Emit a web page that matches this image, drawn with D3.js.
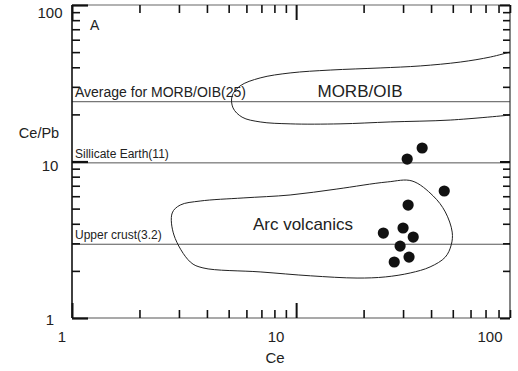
<!DOCTYPE html>
<html><head><meta charset="utf-8">
<script src="https://cdn.jsdelivr.net/npm/d3@7"></script>
<style>
html,body{margin:0;padding:0;background:#fff;}
text{font-family:"Liberation Sans",Arial,sans-serif;fill:#222;}
</style></head>
<body>
<svg id="chart" width="518" height="371"></svg>
<script>
// ---- data ----
const ceValues   = [31.3, 36.5, 45.8, 31.6, 24.5, 30.0, 33.3, 29.1, 31.9, 27.4];
const cePbValues = [10.37, 12.2, 6.48, 5.27, 3.49, 3.76, 3.29, 2.88, 2.45, 2.28];

const refNames  = ["Average for MORB/OIB(25)", "Sillicate Earth(11)", "Upper crust(3.2)"];
const refValues = [24.1, 9.8, 2.96];

const morbCe   = [90.2, 73.5, 54.0, 35.8, 23.7, 14.2, 9.40, 6.91, 5.62, 5.18, 5.23, 5.74, 6.91, 9.40, 15.7, 26.3, 48.7, 90.2];
const morbCePb = [50.1, 46.5, 43.2, 40.8, 39.6, 38.4, 36.8, 34.2, 30.4, 26.2, 22.0, 19.2, 17.9, 17.4, 17.4, 17.9, 18.4, 19.8];

const arcCe   = [2.80, 3.04, 3.73, 5.80, 9.40, 15.2, 25.5, 32.9, 40.9, 46.3, 49.7, 49.2, 46.3, 39.6, 32.3, 25.0, 18.7, 11.6, 6.91, 3.84, 3.37, 2.85];
const arcCePb = [4.69, 5.27, 5.59, 5.85, 6.11, 6.67, 7.40, 7.51, 6.02, 4.76, 3.54, 2.93, 2.45, 2.12, 1.94, 1.83, 1.80, 1.86, 1.97, 2.09, 2.28, 3.39];

const xTickLabels = [1, 10, 100];
const yTickLabels = [1, 10, 100];
const xMinor = [2,3,4,5,6,7,8,9,20,30,40,50,60,70,80,90];
const xMajor = [1,10];
const yMinor = [2,3,4,5,6,7,8,9,20,30,40,50,60,70,80,90];
const yMajor = [1,10,100];

// ---- chart ----
const svg = d3.select("#chart");
const x = d3.scaleLog().domain([1, 90]).range([72, 510]);
const y = d3.scaleLog().domain([1, 100]).range([318, 5]);
// label positions (labels are offset from the ticks in the original)
const xl = d3.scaleLog().domain([1, 100]).range([62, 490]);
const yl = d3.scaleLog().domain([1, 100]).range([319, 12]);

const X0 = x.range()[0], X1 = x.range()[1], Y0 = y.range()[0], Y1 = y.range()[1];

const defs = svg.append("defs");
defs.append("clipPath").attr("id","clip").append("rect")
  .attr("x", X0).attr("y", Y1).attr("width", X1 - X0).attr("height", Y0 - Y1);

const plot = svg.append("g").attr("clip-path","url(#clip)");

// reference lines
plot.selectAll("line.ref").data(refValues).enter().append("line")
  .attr("x1", X0).attr("x2", X1)
  .attr("y1", d => y(d)).attr("y2", d => y(d))
  .attr("stroke", "#555").attr("stroke-width", 1);

// envelopes
const morb = morbCe.map((c,i) => [c, morbCePb[i]]);
const arc = arcCe.map((c,i) => [c, arcCePb[i]]);
plot.append("path").datum(morb)
  .attr("d", d3.line().x(d => x(d[0])).y(d => y(d[1])).curve(d3.curveCatmullRom.alpha(0.5)))
  .attr("fill","none").attr("stroke","#222").attr("stroke-width",1);
plot.append("path").datum(arc)
  .attr("d", d3.line().x(d => x(d[0])).y(d => y(d[1])).curve(d3.curveCatmullRomClosed.alpha(0.5)))
  .attr("fill","none").attr("stroke","#222").attr("stroke-width",1);

// points
svg.selectAll("circle.pt").data(ceValues).enter().append("circle")
  .attr("cx", d => x(d)).attr("cy", (d,i) => y(cePbValues[i]))
  .attr("r", 5.6).attr("fill", "#111");

// frame
svg.append("line").attr("x1",X0).attr("x2",X1).attr("y1",Y1).attr("y2",Y1).attr("stroke","#666").attr("stroke-width",1.2);
svg.append("line").attr("x1",X0).attr("x2",X1).attr("y1",Y0).attr("y2",Y0).attr("stroke","#555").attr("stroke-width",1.2);
svg.append("line").attr("x1",X1).attr("x2",X1).attr("y1",Y1).attr("y2",Y0).attr("stroke","#333").attr("stroke-width",1.2);
svg.append("line").attr("x1",X0).attr("x2",X0).attr("y1",Y1).attr("y2",Y0).attr("stroke","#111").attr("stroke-width",1.6);

function styleAxis(g, w) {
  g.select(".domain").remove();
  g.selectAll(".tick line").attr("stroke","#111").attr("stroke-width", w);
  g.selectAll(".tick text").remove();
}
// bottom
svg.append("g").attr("transform",`translate(0,${Y0})`)
  .call(d3.axisBottom(x).tickValues(xMinor).tickSize(-8).tickFormat(""))
  .call(g => styleAxis(g, 1.6));
svg.append("g").attr("transform",`translate(0,${Y0})`)
  .call(d3.axisBottom(x).tickValues(xMajor).tickSize(-15).tickFormat(""))
  .call(g => styleAxis(g, 2));
// top
svg.append("g").attr("transform",`translate(0,${Y1})`)
  .call(d3.axisTop(x).tickValues(xMinor).tickSize(-8).tickFormat(""))
  .call(g => styleAxis(g, 1.6));
svg.append("g").attr("transform",`translate(0,${Y1})`)
  .call(d3.axisTop(x).tickValues(xMajor).tickSize(-15).tickFormat(""))
  .call(g => styleAxis(g, 2));
// left
svg.append("g").attr("transform",`translate(${X0},0)`)
  .call(d3.axisLeft(y).tickValues(yMinor).tickSize(-8).tickFormat(""))
  .call(g => styleAxis(g, 1.6));
svg.append("g").attr("transform",`translate(${X0},0)`)
  .call(d3.axisLeft(y).tickValues(yMajor).tickSize(-16).tickFormat(""))
  .call(g => styleAxis(g, 2.2));
// right
svg.append("g").attr("transform",`translate(${X1},0)`)
  .call(d3.axisRight(y).tickValues(yMinor).tickSize(-7).tickFormat(""))
  .call(g => styleAxis(g, 1.6));
svg.append("g").attr("transform",`translate(${X1},0)`)
  .call(d3.axisRight(y).tickValues(yMajor).tickSize(-10).tickFormat(""))
  .call(g => styleAxis(g, 2));

// tick labels
svg.selectAll("text.xl").data(xTickLabels).enter().append("text")
  .attr("x", d => xl(d)).attr("y", 342).attr("text-anchor","middle")
  .attr("font-size", 15).text(d => d);
svg.selectAll("text.yl").data(yTickLabels).enter().append("text")
  .attr("x", 50).attr("y", d => yl(d) + 5.5).attr("text-anchor","middle")
  .attr("font-size", 15).text(d => d);

// axis titles
svg.append("text").attr("x", 275).attr("y", 363).attr("text-anchor","middle").attr("font-size",15).text("Ce");
svg.append("text").attr("x", 39).attr("y", 138).attr("text-anchor","middle").attr("font-size",14.5).text("Ce/Pb");

// panel letter
svg.append("text").attr("x", 90).attr("y", 30).attr("font-size", 14).text("A");

// reference labels
const refLabelY = [97, 158, 239];
const refLabelSize = [14, 12, 12];
svg.selectAll("text.ref").data(refNames).enter().append("text")
  .attr("x", 75).attr("y", (d,i) => refLabelY[i])
  .attr("font-size", (d,i) => refLabelSize[i]).text(d => d);

// field labels
svg.append("text").attr("x", 360).attr("y", 97).attr("text-anchor","middle").attr("font-size",17).text("MORB/OIB");
svg.append("text").attr("x", 303).attr("y", 230).attr("text-anchor","middle").attr("font-size",17).text("Arc volcanics");
</script>
</body></html>
